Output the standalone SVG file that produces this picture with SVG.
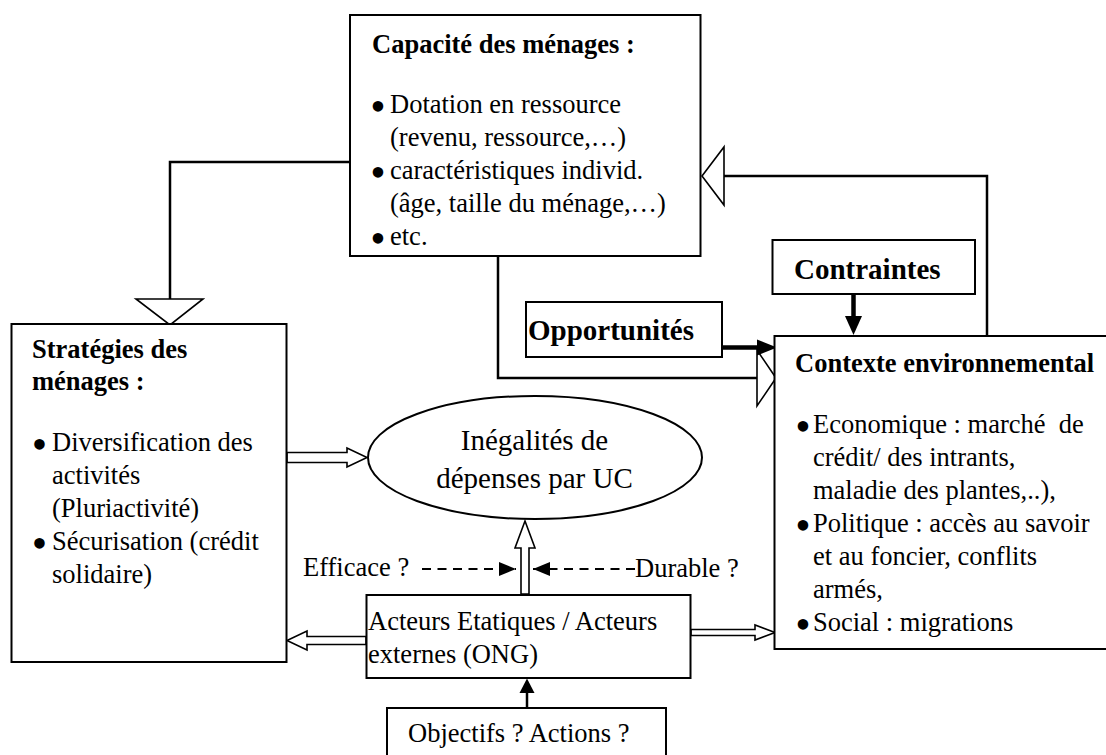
<svg xmlns="http://www.w3.org/2000/svg" width="1106" height="755" viewBox="0 0 1106 755">
<defs>
<marker id="solidHead" markerUnits="userSpaceOnUse" markerWidth="18" markerHeight="16" refX="17" refY="7" orient="auto">
<path d="M0,0 L17,7 L0,14 Z" fill="#000"/>
</marker>
</defs>
<style>
.box{fill:#fff;stroke:#000;stroke-width:2}
.t{font-family:"Liberation Serif","Times New Roman",serif;font-size:26.5px;fill:#000}
.b{font-weight:bold}
.big{font-size:29px}
.bul{font-family:"Liberation Serif","Times New Roman",serif;font-size:44px;fill:#000;text-anchor:middle}
.ln{fill:none;stroke:#000;stroke-width:2.5}
.hollow{fill:#fff;stroke:#000;stroke-width:1.6;stroke-linejoin:miter}
.dash{fill:none;stroke:#000;stroke-width:2;stroke-dasharray:9,6.5}
.thick{fill:none;stroke:#000;stroke-width:4.5}
</style>
<rect width="1106" height="755" fill="#fff"/>

<g id="connectors">
  <polyline class="ln" points="350,162 170,162 170,299"/>
  <polygon class="hollow" points="136,299 203,299 170,325"/>
  <polyline class="ln" points="498,256 498,378 757,378"/>
  <polygon class="hollow" points="757,350 757,406 776,378"/>
  <polyline class="ln" points="987,336 987,176 724,176"/>
  <polygon class="hollow" points="724,147 724,205 702,176"/>
  <line class="thick" x1="722" y1="347.5" x2="759" y2="347.5"/>
  <polygon points="757,339.5 777,347.5 757,355.5" fill="#000"/>
  <line class="thick" x1="853.5" y1="294" x2="853.5" y2="318"/>
  <polygon points="845,316 862,316 853.5,335" fill="#000"/>
  <polygon class="hollow" points="287,452.5 347,452.5 347,448 367,457.5 347,467 347,462.5 287,462.5"/>
  <polygon class="hollow" points="366,636.5 307,636.5 307,631 287,640.5 307,650 307,644.5 366,644.5"/>
  <polygon class="hollow" points="691,629.5 755,629.5 755,625 775,632.5 755,640 755,635.5 691,635.5"/>
  <polygon class="hollow" points="521,594 521,548 515,548 525,521 535,548 529,548 529,594"/>
  <line class="ln" x1="527" y1="708" x2="527" y2="692"/>
  <polygon points="519.5,693 534.5,693 527,678.5" fill="#000"/>
  <line class="dash" x1="422" y1="569" x2="516" y2="569" marker-end="url(#solidHead)"/>
  <line class="dash" x1="635" y1="569" x2="533" y2="569" marker-end="url(#solidHead)"/>
</g>

<g id="capacite">
  <rect class="box" x="350" y="15" width="350.5" height="241"/>
  <text class="t b" x="372" y="53">Capacité des ménages :</text>
  <text class="bul" x="378" y="121">•</text>
  <text class="t" x="390" y="113">Dotation en ressource</text>
  <text class="t" x="390" y="146">(revenu, ressource,…)</text>
  <text class="bul" x="378" y="187">•</text>
  <text class="t" x="390" y="179">caractéristiques individ.</text>
  <text class="t" x="390" y="212">(âge, taille du ménage,…)</text>
  <text class="bul" x="378" y="253">•</text>
  <text class="t" x="390" y="245">etc.</text>
</g>

<g id="strategies">
  <rect class="box" x="11.5" y="324" width="275" height="338"/>
  <text class="t b" x="32" y="358">Stratégies des</text>
  <text class="t b" x="32" y="390">ménages :</text>
  <text class="bul" x="39.5" y="459">•</text>
  <text class="t" x="52" y="451">Diversification des</text>
  <text class="t" x="52" y="484">activités</text>
  <text class="t" x="52" y="517">(Pluriactivité)</text>
  <text class="bul" x="39.5" y="558">•</text>
  <text class="t" x="52" y="550">Sécurisation (crédit</text>
  <text class="t" x="52" y="583">solidaire)</text>
</g>

<g id="opportunites">
  <rect class="box" x="526" y="302" width="196" height="55"/>
  <text class="t b big" x="528" y="340">Opportunités</text>
</g>

<g id="contraintes">
  <rect class="box" x="772.5" y="240" width="202.5" height="54"/>
  <text class="t b big" x="794" y="279">Contraintes</text>
</g>

<g id="contexte">
  <rect class="box" x="774.5" y="336" width="345" height="313"/>
  <text class="t b" x="795" y="372">Contexte environnemental</text>
  <text class="bul" x="803" y="441">•</text>
  <text class="t" x="813" y="433" style="white-space:pre">Economique : marché  de</text>
  <text class="t" x="813" y="466">crédit/ des intrants,</text>
  <text class="t" x="813" y="499">maladie des plantes,..),</text>
  <text class="bul" x="803" y="540">•</text>
  <text class="t" x="813" y="532">Politique : accès au savoir</text>
  <text class="t" x="813" y="565">et au foncier, conflits</text>
  <text class="t" x="813" y="598">armés,</text>
  <text class="bul" x="803" y="639">•</text>
  <text class="t" x="813" y="631">Social : migrations</text>
</g>

<g id="inegalites">
  <ellipse cx="535" cy="457.5" rx="167" ry="61.5" fill="#fff" stroke="#000" stroke-width="2"/>
  <text class="t big" x="534.5" y="450" text-anchor="middle">Inégalités de</text>
  <text class="t big" x="534.5" y="488" text-anchor="middle">dépenses par UC</text>
</g>

<g id="efficace">
  <text class="t" x="303" y="576">Efficace ?</text>
</g>
<g id="durable">
  <text class="t" x="635" y="577">Durable ?</text>
</g>

<g id="acteurs">
  <rect class="box" x="366.5" y="595" width="324" height="83"/>
  <text class="t" x="368" y="630">Acteurs Etatiques / Acteurs</text>
  <text class="t" x="368" y="663">externes (ONG)</text>
</g>

<g id="objectifs">
  <rect class="box" x="387" y="708" width="279" height="60"/>
  <text class="t" x="408" y="742">Objectifs ? Actions ?</text>
</g>
</svg>
